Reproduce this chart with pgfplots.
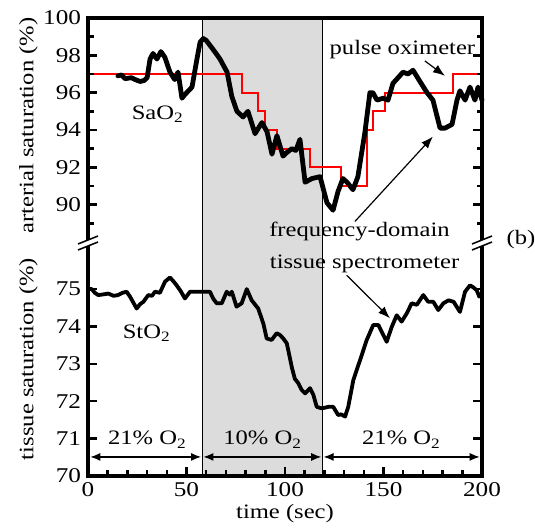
\documentclass[border=0pt]{standalone}
\usepackage{fontspec}
\setmainfont{Liberation Serif}[FakeStretch=1.2]
\usepackage{pgfplots}
\pgfplotsset{compat=1.18}
\usetikzlibrary{arrows.meta}
\definecolor{shade}{RGB}{220,220,220}
\definecolor{oxi}{RGB}{255,0,0}
\pgfplotsset{
  myax/.style={
    scale only axis, width=394pt, xmin=0, xmax=200,
    axis line style={draw=none},
    axis on top, clip=false,
    tick align=inside,
    major tick length=9pt, minor tick length=5.5pt,
    tick style={black, line width=2.5pt},
    /pgf/number format/assume math mode=true,
    tick label style={font=\fontsize{21}{24}\selectfont},
    label style={font=\fontsize{20.5}{24}\selectfont},
    yticklabel pos=left, ytick pos=both,
  }
}
\begin{document}
\fontsize{20.5}{24}\selectfont
\begin{tikzpicture}
\useasboundingbox (-88pt,-53pt) rectangle (447pt,476pt);
% ---------------- bottom axis: tissue saturation
\begin{axis}[myax, name=bot, at={(0,0)}, anchor=south west, height=234pt,
  ymin=70, ymax=76.26, ytick={70,...,75},
  xtick={0,50,...,200}, minor xtick={10,20,...,190}, xtick pos=left,
  xlabel={time (sec)}, xlabel style={at={(axis description cs:0.5,-0.162)},anchor=center},
  ylabel={tissue saturation (\%)}, ylabel style={at={(axis description cs:-0.151,0.5)},anchor=center}]
\addplot[draw=none, fill=shade, forget plot] coordinates {(58,70) (58,76.26) (119,76.26) (119,70)} -- cycle;
\addplot[line width=1.2pt, forget plot] coordinates {(58,70) (58,76.26)};
\addplot[line width=1.2pt, forget plot] coordinates {(119,70) (119,76.26)};
\addplot[black, line width=3.8pt, line join=round, line cap=round] coordinates {
(0.5,75.0) (1.9,75.0) (3.5,74.9) (5.2,74.84) (8,74.86) (10.3,74.88) (13,74.82) (15.2,74.84) (17.5,74.9)
(19.6,74.93) (21.3,74.8) (24.7,74.48) (26.5,74.6) (28.1,74.66) (30.6,74.84) (32.5,74.82) (34,74.93) (36.5,74.9)
(39.1,75.2) (41.6,75.31) (43.5,75.2) (45,75.1) (47,74.95) (49.2,74.75) (51.8,74.93) (57.7,74.93) (61.9,74.93)
(63.5,74.75) (65.3,74.62) (67.9,74.62) (70.4,74.93) (72,74.85) (73,74.93) (75.4,74.53) (78,74.62) (80.6,75.0)
(83.1,74.7) (86.4,74.48) (89,74.08) (90.7,73.68) (93.2,73.64) (95.8,73.82) (97.5,73.77)
(99.1,73.68) (100.9,73.55) (102,73.28) (103.5,72.9) (105,72.6) (106.8,72.48) (108.5,72.3) (110.2,72.21)
(112.7,72.35) (114.4,72.17) (116.1,71.85) (118.6,71.81) (120.5,71.83) (122,71.85) (124.5,71.85)
(127,71.63) (128.5,71.65) (130.5,71.59) (132.1,71.85) (134.7,72.57) (138.1,73.1) (141.5,73.64)
(144.8,74.04) (147.4,74.04) (149.9,73.77) (151.6,73.59) (154.2,73.99) (156.7,74.3)
(159.2,74.13) (161.8,74.35) (164.3,74.62) (166.9,74.58) (170.2,74.84) (172.7,74.66)
(175.3,74.66) (177.8,74.44) (180.4,74.62) (183,74.7) (185.6,74.66) (188.8,74.39)
(191.4,74.93) (193.9,75.1) (195.5,75.05) (197.3,74.97) (198.6,74.8) (200,74.85)};
\node at (axis cs:29.7,73.69) [anchor=base] {StO\textsubscript{2}};
\node at (axis cs:30,70.83) [anchor=base] {21\% O\textsubscript{2}};
\node at (axis cs:88.5,70.83) [anchor=base] {10\% O\textsubscript{2}};
\node at (axis cs:159,70.83) [anchor=base] {21\% O\textsubscript{2}};
\draw[line width=1.2pt, {Latex[length=10pt,width=8pt]}-{Latex[length=10pt,width=8pt]}] (axis cs:1.2,70.51) -- (axis cs:57.4,70.51);
\draw[line width=1.2pt, {Latex[length=10pt,width=8pt]}-{Latex[length=10pt,width=8pt]}] (axis cs:58.6,70.51) -- (axis cs:118.4,70.51);
\draw[line width=1.2pt, {Latex[length=10pt,width=8pt]}-{Latex[length=10pt,width=8pt]}] (axis cs:119.6,70.51) -- (axis cs:198.8,70.51);
\draw[line width=1.2pt, -{Latex[length=12pt,width=9pt]}] (axis cs:131.3,75.37) -- (axis cs:153.3,74.22);
\end{axis}
% ---------------- top axis: arterial saturation
\begin{axis}[myax, name=top, at={(0,234pt)}, anchor=south west, height=224pt,
  ymin=88, ymax=100, ytick={90,92,...,100}, minor ytick={89,91,...,99},
  xtick=\empty,
  ylabel={arterial saturation (\%)}, ylabel style={at={(axis description cs:-0.151,0.52)},anchor=center}]
\addplot[draw=none, fill=shade, forget plot] coordinates {(58,88) (58,100) (119,100) (119,88)} -- cycle;
\addplot[line width=1.2pt, forget plot] coordinates {(58,88) (58,100)};
\addplot[line width=1.2pt, forget plot] coordinates {(119,88) (119,100)};
\addplot[oxi, line width=1.8pt, const plot] coordinates {
(0,97) (78.2,96) (86.3,95) (89.8,94) (95.9,93) (112.7,92) (128.3,91) (141.5,94)
(144.6,95) (150.8,96) (185.4,97) (200,97)};
\addplot[black, line width=4.8pt, line join=round, line cap=round] coordinates {
(15.2,96.9) (17,96.95) (18.8,96.75) (22,96.8) (24,96.7) (26.4,96.6) (28.5,96.65) (30,96.8)
(31.5,97.8) (33,98.1) (35,97.8) (37,98.2) (39,97.9) (41.6,97.1) (44,96.7) (45.7,97.1)
(47.7,95.7) (49.2,95.9) (52.8,96.3) (55.3,97.8) (56.9,98.7) (58.5,98.9) (60,98.8)
(62.9,98.4) (65,98.1) (67,97.8) (70.6,97.1) (73,95.8) (75.6,95.0) (78.7,94.7) (81.2,95.0)
(84.8,93.8) (86.5,94.1) (88.3,94.4) (90.9,93.9) (93.4,92.7) (95.9,93.7) (99,92.6) (101,92.8) (103.5,93.0)
(105.5,92.9) (107.6,93.5) (110.2,91.2) (113.7,91.4) (117.8,91.5) (121.3,90.1) (124.4,89.7)
(126.9,90.7) (129.4,91.4) (131.5,91.2) (134.5,90.8) (137,91.5) (140.6,93.9) (143.1,96.0)
(144.6,96.0) (146.7,95.6) (149.7,95.7) (152.3,95.6) (154.8,96.5) (157.4,96.8)
(159.9,97.1) (162.4,97.0) (165,97.2) (168.5,96.6) (172.1,96.0) (175.1,95.6) (178.7,94.1)
(181.2,94.1) (184.8,94.3) (187.3,95.6) (188.8,96.1) (191.4,95.6) (193.9,96.3)
(196.4,95.6) (198,96.3) (200,95.6)};
\node at (axis cs:35.3,94.56) [anchor=base] {SaO\textsubscript{2}};
\node at (axis cs:159.6,98.03) [anchor=base] {pulse oximeter};
\draw[line width=1.2pt, -{Latex[length=12pt,width=9pt]}] (axis cs:171,97.7) -- (axis cs:181.2,96.9);
\draw[line width=1.2pt, -{Latex[length=12pt,width=9pt]}] (axis cs:135.5,89.1) -- (axis cs:175.1,93.65);
\node at (axis cs:137.8,88.27) [anchor=base] {frequency-domain};
\node at (axis cs:140.4,86.56) [anchor=base] {tissue spectrometer};
\end{axis}
% frame and axis breaks
\draw[line width=4pt] (0,0) rectangle (394pt,458pt);
\foreach \xx in {0,394} {
  \fill[white] (\xx pt-10pt,226pt) -- (\xx pt+10pt,234pt) -- (\xx pt+10pt,240pt) -- (\xx pt-10pt,232pt) -- cycle;
  \draw[line width=1.5pt] (\xx pt-10pt,226pt) -- (\xx pt+10pt,234pt) (\xx pt-10pt,232pt) -- (\xx pt+10pt,240pt);
}
\node at (433pt,236pt) {(b)};
\end{tikzpicture}
\end{document}
